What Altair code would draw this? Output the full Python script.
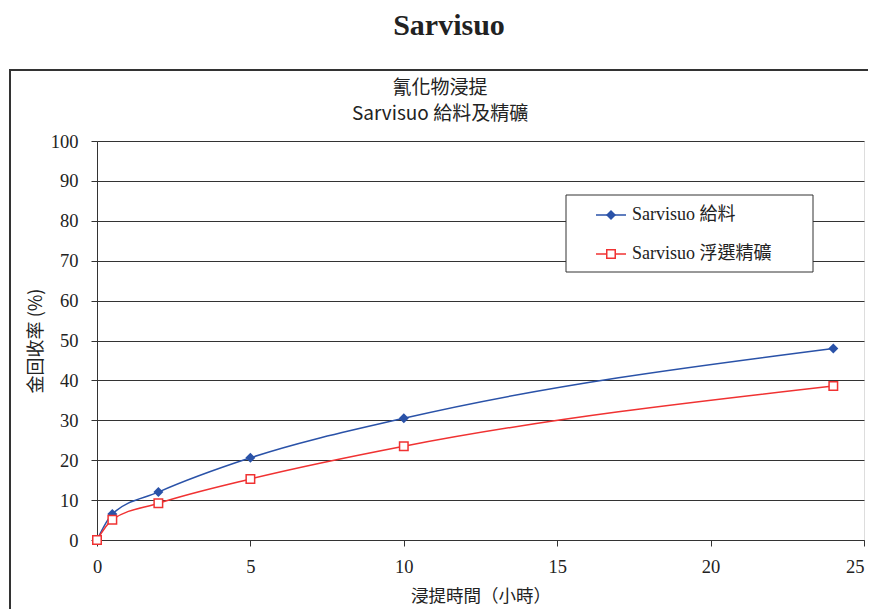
import altair as alt
import pandas as pd

hours = [0, 0.5, 2, 5, 10, 24]
feed = [0, 6.5, 12.0, 20.6, 30.5, 48.0]
conc = [0, 5.1, 9.2, 15.3, 23.5, 38.6]
series_names = ["Sarvisuo 給料", "Sarvisuo 浮選精礦"]
colors = ["#2a52a8", "#f03232"]
x_ticks = [0, 5, 10, 15, 20, 25]
y_ticks = list(range(0, 101, 10))

df = pd.DataFrame({
    "hours": hours * 2,
    "value": feed + conc,
    "series": [series_names[0]] * len(hours) + [series_names[1]] * len(hours),
})

SERIF = "Liberation Serif, Times New Roman, Noto Sans CJK TC, serif"
SANS = "Noto Sans CJK TC, Liberation Sans, sans-serif"

W, H = 767, 399

xenc = alt.X("hours:Q", scale=alt.Scale(domain=[0, 25], nice=False),
             axis=alt.Axis(values=x_ticks, grid=False, tickSize=6, tickColor="#333",
                           domainColor="#333", labelFont=SERIF, labelFontSize=18.5,
                           labelColor="#222", labelPadding=11, labelOverlap=False,
                           labelFlush=False,
                           labelAlign=alt.ExprRef("datum.value >= 25 ? 'right' : 'center'"),
                           title="浸提時間（小時）", titleFont=SANS, titleFontSize=17.5,
                           titleFontWeight="normal", titleColor="#222", titlePadding=12))
yenc = alt.Y("value:Q", scale=alt.Scale(domain=[0, 100], nice=False),
             axis=alt.Axis(values=y_ticks, grid=True, gridColor="#333", gridWidth=1,
                           tickSize=6, tickColor="#333", domainColor="#333",
                           labelFont=SERIF, labelFontSize=18.5, labelColor="#222",
                           labelPadding=13, labelOverlap=False, labelFlush=False,
                           title="金回收率 (%)", titleFont=SANS,
                           titleFontSize=18, titleFontWeight="normal", titleColor="#222",
                           titlePadding=5))

cscale = alt.Scale(domain=series_names, range=colors)

lines = alt.Chart(df).mark_line(interpolate="monotone", strokeWidth=1.5).encode(
    x=xenc, y=yenc, color=alt.Color("series:N", scale=cscale, legend=None))

feed_pts = alt.Chart(df[df.series == series_names[0]]).mark_point(
    shape="diamond", filled=True, size=100, opacity=1, color=colors[0]).encode(
    x=xenc, y=yenc)
conc_pts = alt.Chart(df[df.series == series_names[1]]).mark_point(
    shape="square", filled=False, size=72, strokeWidth=1.5, opacity=1,
    color=colors[1], fill="white", fillOpacity=1).encode(x=xenc, y=yenc)

# outer frame
frame = alt.Chart(pd.DataFrame({"a": [0]})).mark_rect(
    fill=None, stroke="#333", strokeWidth=2, clip=False).encode(
    x=alt.value(-87), x2=alt.value(1000), y=alt.value(-71), y2=alt.value(700))

def txt(text, x, y, font, size, weight="normal", align="center"):
    return alt.Chart(pd.DataFrame({"t": [text]})).mark_text(
        font=font, fontSize=size, fontWeight=weight, align=align, baseline="middle",
        color="#222").encode(text="t:N", x=alt.value(x), y=alt.value(y))

title = txt("Sarvisuo", 352, -115, SERIF, 30, "bold")
sub1 = txt("氰化物浸提", 343, -53, SANS, 19)
sub2 = txt("Sarvisuo 給料及精礦", 343, -27, SANS, 19)

# legend
lx0, ly0 = 469, 54
legend_box = alt.Chart(pd.DataFrame({"a": [0]})).mark_rect(
    fill="white", stroke="#333", strokeWidth=1).encode(
    x=alt.value(lx0), x2=alt.value(lx0 + 247), y=alt.value(ly0), y2=alt.value(ly0 + 77))
leg_layers = [legend_box]
for i, (name, col) in enumerate(zip(series_names, colors)):
    yy = ly0 + 20 + 39 * i
    leg_layers.append(alt.Chart(pd.DataFrame({"a": [0]})).mark_rule(
        color=col, strokeWidth=1.5).encode(x=alt.value(499), x2=alt.value(529), y=alt.value(yy)))
    if i == 0:
        leg_layers.append(alt.Chart(pd.DataFrame({"a": [0]})).mark_point(
            shape="diamond", filled=True, size=100, opacity=1, color=col).encode(
            x=alt.value(514), y=alt.value(yy)))
    else:
        leg_layers.append(alt.Chart(pd.DataFrame({"a": [0]})).mark_point(
            shape="square", filled=False, size=72, strokeWidth=1.5, opacity=1,
            color=col, fill="white", fillOpacity=1).encode(x=alt.value(514), y=alt.value(yy)))
    leg_layers.append(txt(name, 535, yy, SERIF, 18, align="left"))

chart = alt.layer(frame, lines, feed_pts, conc_pts, title, sub1, sub2, *leg_layers).properties(
    width=W, height=H,
    autosize=alt.AutoSizeParams(type="none"),
    padding={"left": 89, "top": 133, "right": 4, "bottom": 70},
).configure_view(stroke="#999", strokeWidth=1).configure(background="white")

chart.save("out.html", embed_options={"renderer": "svg", "actions": False})
